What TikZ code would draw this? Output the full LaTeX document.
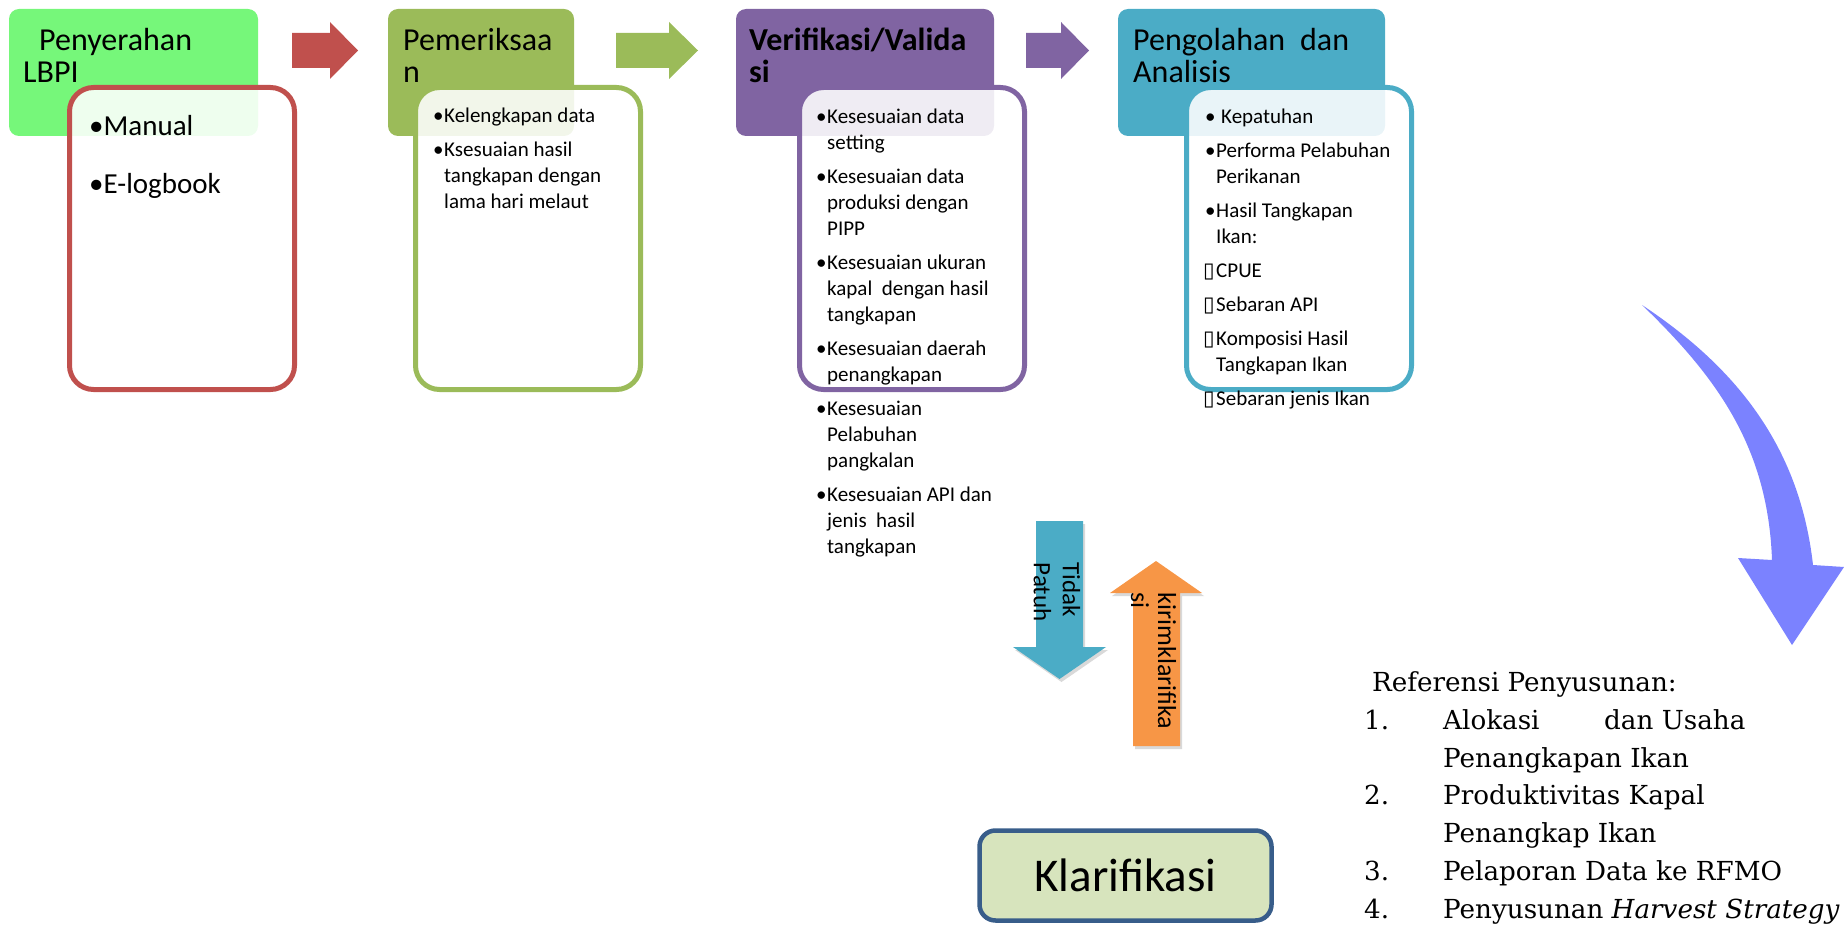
\documentclass[tikz,border=0pt]{standalone}
\usepackage{fontspec}
\setmainfont{Carlito}
\newfontfamily\refserif{DejaVu Serif}
\newfontfamily\tofusans{DejaVu Sans}
\usetikzlibrary{shadows}

\definecolor{lbpigreen}{RGB}{118,247,122}
\definecolor{cred}{RGB}{192,80,77}
\definecolor{colive}{RGB}{155,187,89}
\definecolor{cpurple}{RGB}{128,100,162}
\definecolor{cteal}{RGB}{75,172,198}
\definecolor{corange}{RGB}{247,150,70}
\definecolor{cblue}{RGB}{123,130,255}
\definecolor{klarfill}{RGB}{215,228,189}
\definecolor{klarline}{RGB}{56,93,138}

\newcommand{\itemmark}{\makebox[11pt][l]{\textbullet}}
\newcommand{\itemgap}{\hspace*{11pt}}
\newcommand{\boxmark}{\hspace*{-2pt}\makebox[13pt][l]{\tofusans ▯}}

\tikzset{
  hdr/.style={rectangle, rounded corners=10pt, inner sep=0pt, outer sep=0pt,
    anchor=north west, minimum height=127},
  htext/.style={anchor=base west, inner sep=0pt, align=left,
    font=\fontsize{32}{32}\selectfont},
  card/.style={rectangle, rounded corners=24pt, line width=5pt, fill=white,
    fill opacity=0.88, inner sep=0pt, outer sep=2.5pt, anchor=north west,
    minimum width=225, minimum height=302},
  itemlist/.style={anchor=base west, inner sep=0pt, align=left,
    font=\fontsize{21}{26}\selectfont},
  vtext/.style={rotate=-90, inner sep=0pt, align=left,
    font=\fontsize{25}{29}\selectfont},
  blockshadow/.style={drop shadow={shadow xshift=2pt, shadow yshift=-3pt,
    opacity=0.3}}
}

\begin{document}
\begin{tikzpicture}[x=1pt,y=-1pt]
  \useasboundingbox (0,0) rectangle (1844,925);
  % step headers (text nodes sit on the baseline of their last line)
  \node[hdr, fill=lbpigreen, minimum width=249] (h1) at (9,9) {};
  \node[hdr, fill=colive, minimum width=186] (h2) at (388,9) {};
  \node[hdr, fill=cpurple, minimum width=258] (h3) at (736,9) {};
  \node[hdr, fill=cteal, minimum width=267] (h4) at (1118,9) {};
  \node[htext] (t1) at (23,83) {\hspace*{16pt}Penyerahan\\LBPI};
  \node[htext] (t2) at (403,83) {Pemeriksaa\\n};
  \node[htext, font=\fontsize{32}{32}\selectfont\bfseries] (t3) at (749,83) {Verifikasi/Valida\\si};
  \node[htext] (t4) at (1133,83) {Pengolahan\hspace{15pt}dan\\Analisis};

  % arrows between the steps
  \fill[cred] (292,33) -- (330,33) -- (330,22) -- (358,50.5) -- (330,79) -- (330,68) -- (292,68) -- cycle;
  \fill[colive] (616,33) -- (669,33) -- (669,22) -- (698,50.5) -- (669,79) -- (669,68) -- (616,68) -- cycle;
  \fill[cpurple] (1026,33) -- (1061,33) -- (1061,22) -- (1089,50.5) -- (1061,79) -- (1061,68) -- (1026,68) -- cycle;

  % step contents
  \node[card, draw=cred] (c1) at (67,85) {};
  \node[card, draw=colive] (c2) at (413,85) {};
  \node[card, draw=cpurple] (c3) at (797,85) {};
  \node[card, draw=cteal] (c4) at (1184,85) {};
  \node[itemlist, font=\fontsize{29}{35}\selectfont] (l1) at (89,194)
    {\textbullet Manual\\[23pt]\textbullet E-logbook};
  \node[itemlist] (l2) at (433,209)
    {\itemmark Kelengkapan data\\[8pt]
     \itemmark Ksesuaian hasil\\ \itemgap tangkapan dengan\\ \itemgap lama hari melaut};
  \node[itemlist] (l3) at (816,553)
    {\itemmark Kesesuaian data\\ \itemgap setting\\[8pt]
     \itemmark Kesesuaian data\\ \itemgap produksi dengan\\ \itemgap PIPP\\[8pt]
     \itemmark Kesesuaian ukuran\\ \itemgap kapal\ \ dengan hasil\\ \itemgap tangkapan\\[8pt]
     \itemmark Kesesuaian daerah\\ \itemgap penangkapan\\[8pt]
     \itemmark Kesesuaian\\ \itemgap Pelabuhan\\ \itemgap pangkalan\\[8pt]
     \itemmark Kesesuaian API dan\\ \itemgap jenis\ \ hasil\\ \itemgap tangkapan};
  \node[itemlist] (l4) at (1205,405)
    {\itemmark\hspace{5pt}Kepatuhan\\[8pt]
     \itemmark Performa Pelabuhan\\ \itemgap Perikanan\\[8pt]
     \itemmark Hasil Tangkapan\\ \itemgap Ikan:\\[8pt]
     \boxmark CPUE\\[8pt]
     \boxmark Sebaran API\\[8pt]
     \boxmark Komposisi Hasil\\ \itemgap Tangkapan Ikan\\[8pt]
     \boxmark Sebaran jenis Ikan};

  % feedback arrows
  \fill[cteal, blockshadow] (1036,521) -- (1083,521) -- (1083,647) -- (1106,647) -- (1059.5,679) -- (1013,647) -- (1036,647) -- cycle;
  \fill[corange, blockshadow] (1133,746) -- (1180,746) -- (1180,593) -- (1202,593) -- (1156,561) -- (1110,593) -- (1133,593) -- cycle;
  \node[vtext] (tp) at (1057,592) {Tidak\\Patuh};
  \node[vtext, font=\fontsize{26}{27}\selectfont] (kk) at (1153.5,661) {kirimklarifika\\si};

  \node[draw=klarline, fill=klarfill, line width=4.5pt, rounded corners=16pt,
    minimum width=292, minimum height=90, inner sep=0pt,
    font=\fontsize{47}{47}\selectfont] (klar) at (1125.5,875.5) {Klarifikasi};

  % curved arrow to the references
  \fill[cblue] (1642,305) .. controls (1740,370) and (1800,450) .. (1813,565)
    -- (1844,567) -- (1792,645) -- (1738,558) -- (1772,560)
    .. controls (1768,450) and (1720,380) .. (1642,305) -- cycle;

  \node[anchor=base west, inner sep=0pt, align=left,
    font=\refserif\fontsize{26.2}{37.7}\selectfont] (ref) at (1364,918)
    {\hspace*{8pt}Referensi Penyusunan:\\
     \makebox[79pt][l]{1.}\makebox[161pt][l]{Alokasi}dan Usaha\\
     \hspace*{79pt}Penangkapan Ikan\\
     \makebox[79pt][l]{2.}Produktivitas Kapal\\
     \hspace*{79pt}Penangkap Ikan\\
     \makebox[79pt][l]{3.}Pelaporan Data ke RFMO\\
     \makebox[79pt][l]{4.}Penyusunan \textit{Harvest Strategy}};
\end{tikzpicture}
\end{document}
